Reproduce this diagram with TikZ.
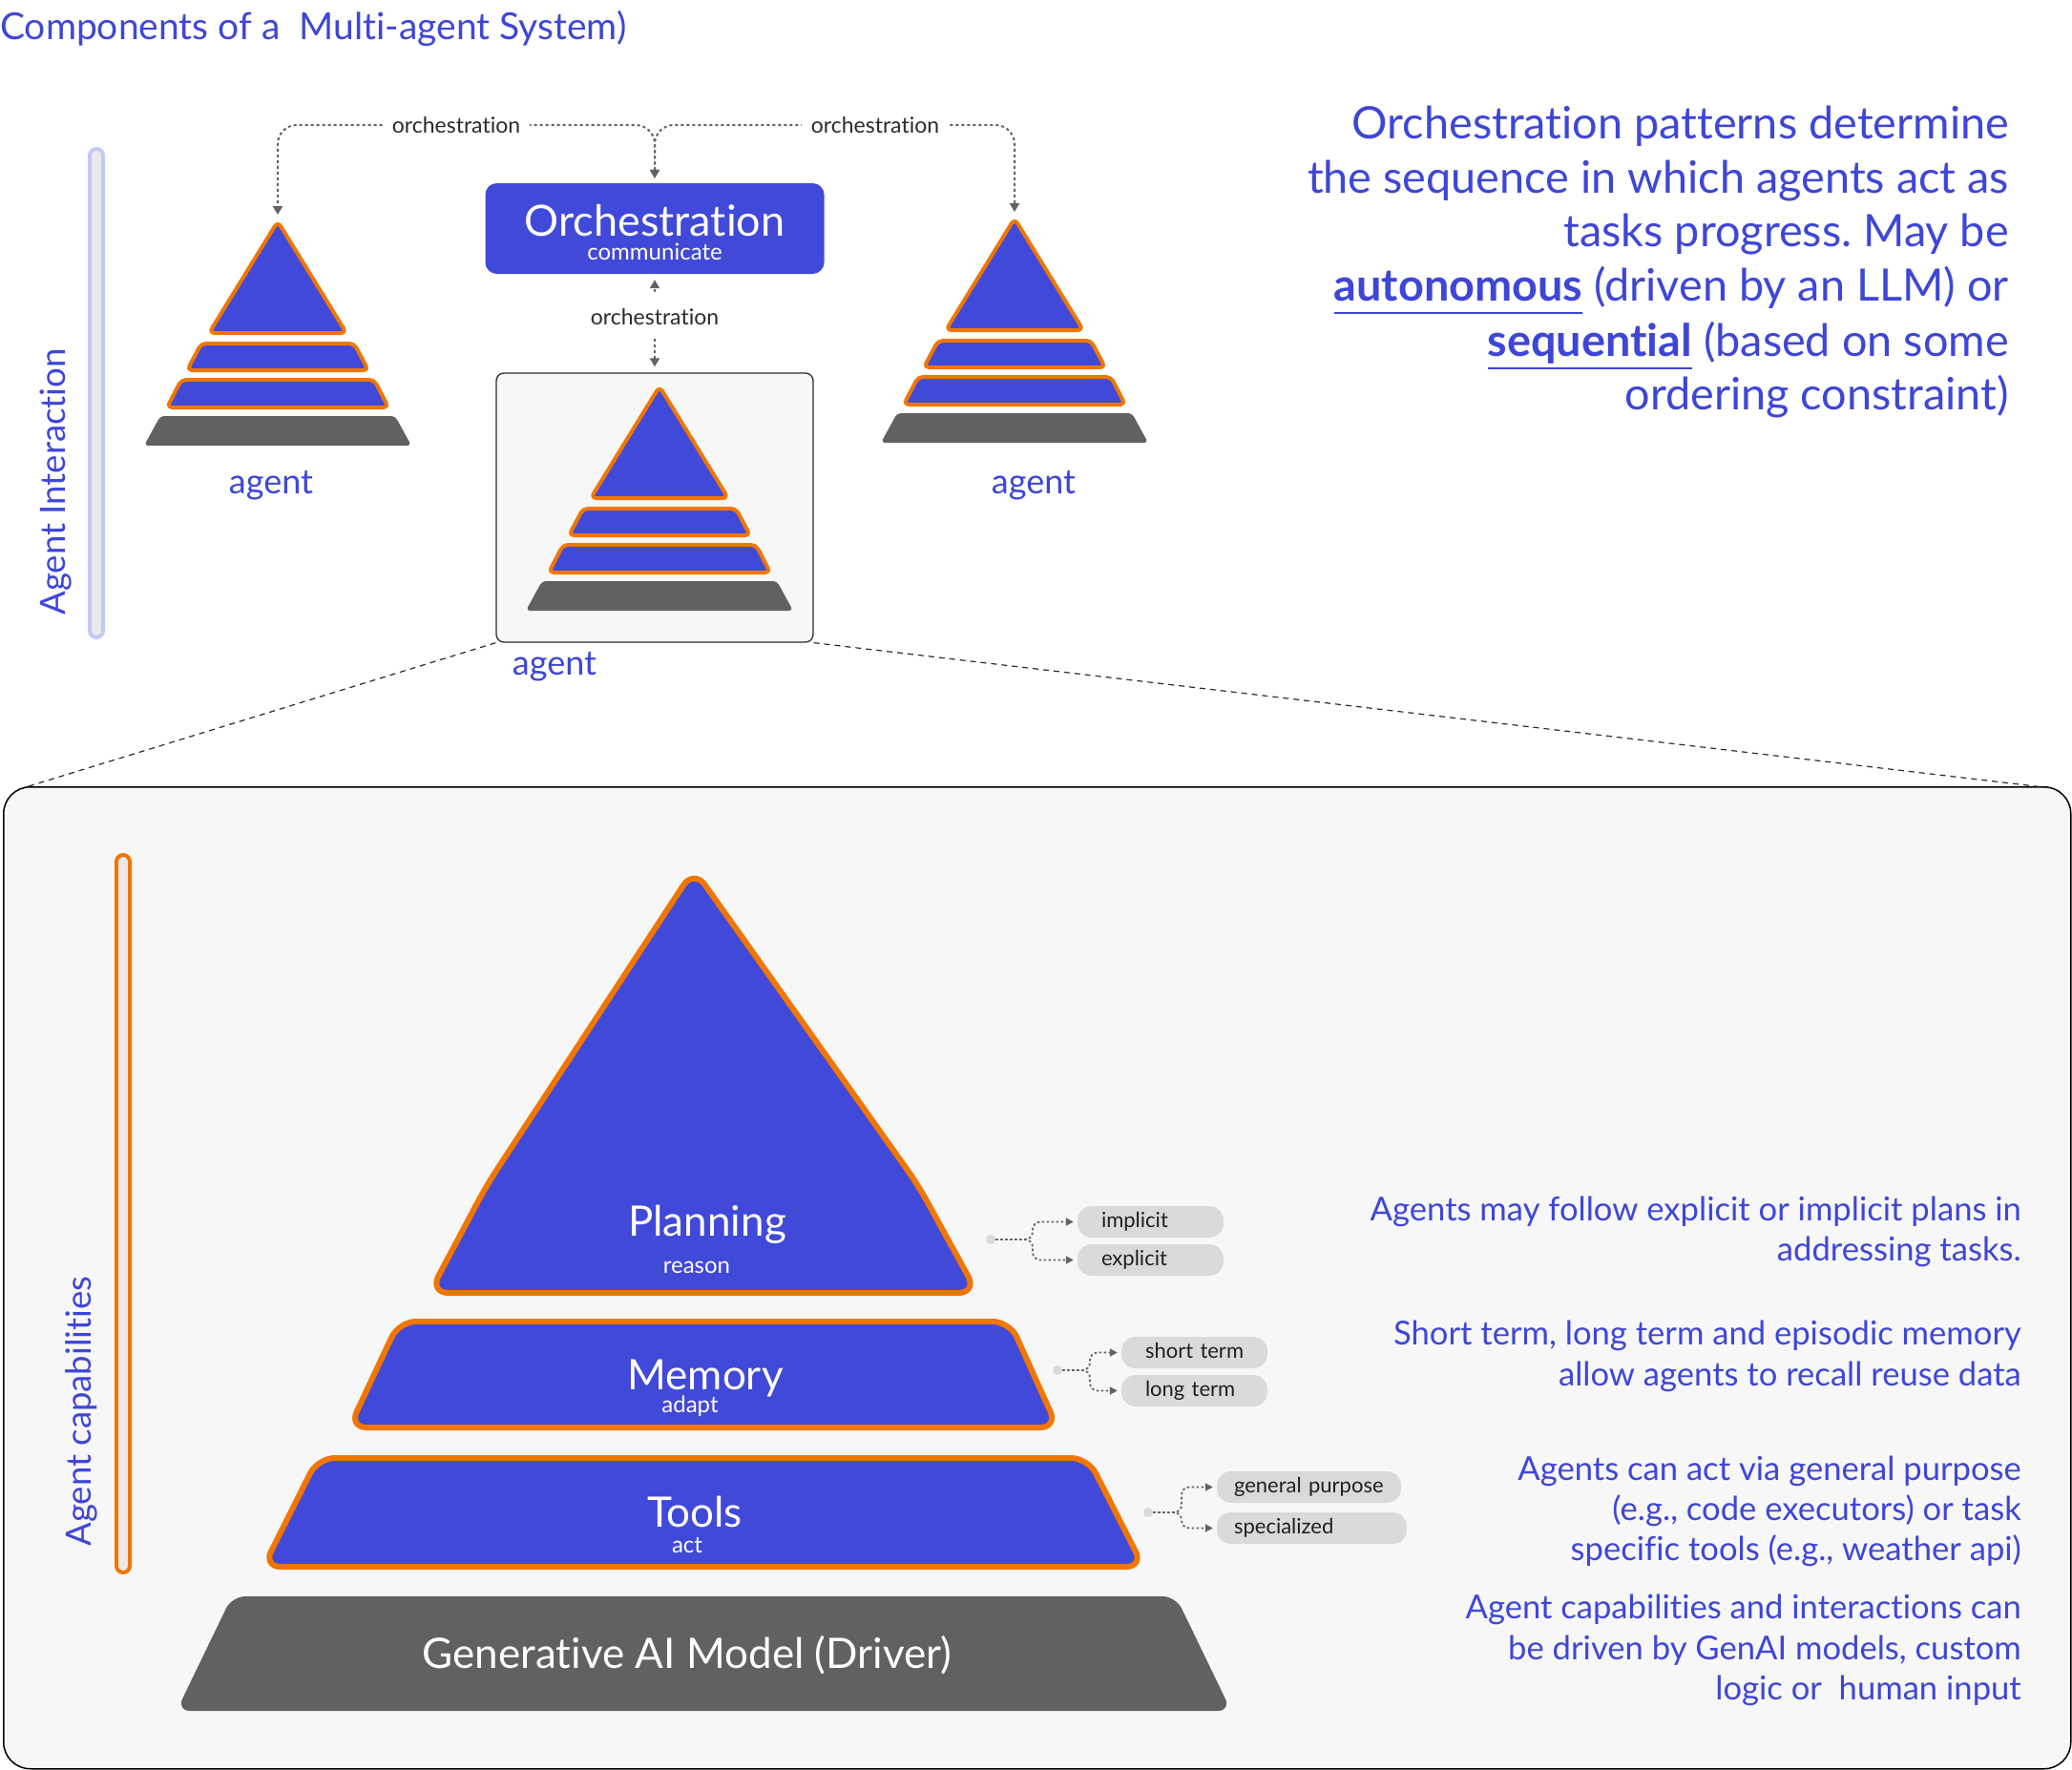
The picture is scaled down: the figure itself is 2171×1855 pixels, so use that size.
\documentclass[tikz,border=0pt]{standalone}
\usepackage{fontspec}
\setmainfont{Lato}[Ligatures=NoCommon]
\usetikzlibrary{arrows.meta}

\definecolor{agblue}{HTML}{4149D9}
\definecolor{txtblue}{HTML}{3E46D8}
\definecolor{agorange}{HTML}{F07600}
\definecolor{aggray}{HTML}{616161}
\definecolor{chipgray}{HTML}{DADADA}
\definecolor{panelbg}{HTML}{F7F7F7}
\definecolor{barfill}{HTML}{EAEAEA}
\definecolor{lavender}{HTML}{C3C7FA}
\definecolor{linkgray}{HTML}{626262}
\definecolor{inkdark}{HTML}{2B2B2B}

\newcommand\fsz[1]{\fontsize{#1}{#1}\selectfont}
% bold word with a rule set well below the baseline
\newcommand\ulbold[1]{\setbox0=\hbox{\bfseries #1}\rlap{\rule[-14pt]{\wd0}{2pt}}\box0\relax}

\tikzset{
  layer/.style={fill=agblue, draw=agorange, line width=4pt, line join=round},
  biglayer/.style={fill=agblue, draw=agorange, line width=6pt, line join=round},
  pics/minipyr/.style={code={
    \fill[aggray, rounded corners=4pt] (0,203) -- (123,203) -- (140,234) -- (-140,234) -- (-123,203) -- cycle;
    \draw[layer, rounded corners=5pt] (0,165) -- (101,165) -- (116,194) -- (-116,194) -- (-101,165) -- cycle;
    \draw[layer, rounded corners=5pt] (0,127) -- (80,127) -- (95,155) -- (-95,155) -- (-80,127) -- cycle;
    \draw[layer, rounded corners=6pt] (0,116) -- (72,116) -- (0,-1) -- (-72,116) -- cycle;
    \coordinate (-top) at (0,0);
  }},
  tipbig/.tip={Triangle[length=9pt,width=10pt]},
  tipsmall/.tip={Triangle[length=8pt,width=8pt]},
  orchlink/.style={draw=linkgray, fill=none, line width=2pt, dash pattern=on 3pt off 3pt, rounded corners=20pt},
  sidelink/.style={draw=linkgray, line width=1.8pt, dash pattern=on 2.5pt off 2.5pt, rounded corners=8pt, -tipsmall, shorten >=4pt},
  orchlbl/.style={font=\fsz{23}, text=inkdark, inner sep=0pt},
  agentlbl/.style={font=\fsz{36}, text=txtblue, anchor=base, inner sep=0pt},
  sidelbl/.style={font=\fsz{36.5}, text=txtblue, anchor=base, inner sep=0pt, rotate=90},
  chip/.style={fill=chipgray, rounded corners=15pt, minimum height=33pt, inner ysep=0pt,
    align=left, font=\fsz{22}, text=black!88, text height=16pt, text depth=5pt},
  sidedot/.style={circle, fill=chipgray, minimum size=10pt, inner sep=0pt},
  layertitle/.style={font=\fsz{44}, text=white, anchor=base, inner sep=0pt},
  layersub/.style={font=\fsz{24}, text=white, anchor=base, inner sep=0pt},
  para/.style={font=\fsz{46.8}, text=txtblue, anchor=base east, inner sep=0pt},
  desc/.style={font=\fsz{34.6}, text=txtblue, anchor=base east, inner sep=0pt},
  zoomline/.style={draw=inkdark, line width=1.2pt, dash pattern=on 6pt off 5pt}
}

\begin{document}
\frenchspacing
\begin{tikzpicture}[x=1pt,y=-1pt]
\useasboundingbox (0,0) rectangle (2171,1855);

% title
\node[font=\fsz{39}, text=txtblue, anchor=base west, inner sep=0pt] (title) at (0,41)
  {Components of a\ \ Multi-agent System)};

% lower panel with the enlarged agent
\node[draw=black, line width=1.5pt, fill=panelbg, rounded corners=28pt,
  minimum width=2166pt, minimum height=1029pt, inner sep=0pt, anchor=north west] (panel) at (3,824) {};
\coordinate (pnl-l) at (30,824);
\coordinate (pnl-r) at (2150,826);

% agent interaction bar and caption
\draw[draw=lavender, fill=barfill, line width=4pt, rounded corners=7pt] (94,156) rectangle (108,668);
\node[sidelbl] (intlbl) at (68,505) {Agent Interaction};

% orchestration box
\node[fill=agblue, rounded corners=12pt, minimum width=355pt, minimum height=95pt, inner sep=0pt] (orch) at (686,239.5) {};
\node[layertitle, font=\fsz{45}] (orchT) at (686,247) {Orchestration};
\node[layersub] (orchS) at (686,272) {communicate};

% highlighted agent box
\node[draw=inkdark, line width=1.3pt, fill=panelbg, rounded corners=8pt,
  minimum width=332pt, minimum height=282pt, inner sep=0pt] (abox) at (686,532) {};
\draw[zoomline] (abox.south west) -- (pnl-l);
\draw[zoomline] (abox.south east) -- (pnl-r);

% three small agents
\pic (lpyr) at (291,233) {minipyr};
\pic (rpyr) at (1063,230) {minipyr};
\pic (cpyr) at (691,406) {minipyr};
\node[agentlbl] (lagent) at (284,517) {agent};
\node[agentlbl] (ragent) at (1083,517) {agent};
\node[agentlbl] (cagent) at (581,707) {agent};

% orchestration connectors
\coordinate (topline) at (0,131);
\draw[orchlink, tipbig-tipbig, shorten <=5pt, shorten >=8pt]
  (orch.north) -- (orch.north |- topline) -- (lpyr-top |- topline) -- (lpyr-top);
\draw[orchlink, tipbig-tipbig, shorten <=5pt, shorten >=8pt]
  (orch.north) -- (orch.north |- topline) -- (rpyr-top |- topline) -- (rpyr-top);
\node[orchlbl, fill=white, inner xsep=10pt, inner ysep=4pt] (olabL) at (478,131) {orchestration};
\node[orchlbl, fill=white, inner xsep=10pt, inner ysep=4pt] (olabR) at (917,131) {orchestration};
\node[orchlbl, anchor=base] (olabC) at (686,340) {orchestration};
\draw[orchlink, -tipbig, shorten <=17pt, shorten >=6pt] (olabC.north) -- (orch.south);
\draw[orchlink, -tipbig, shorten <=15pt, shorten >=6pt] (olabC.south) -- (abox.north);

% orchestration description
\node[para] (p1) at (2105,145) {Orchestration patterns determine};
\node[para] (p2) at (2105,202) {the sequence in which agents act as};
\node[para] (p3) at (2105,258) {tasks progress. May be};
\node[para] (p4) at (2105,315) {\ulbold{autonomous} (driven by an LLM) or};
\node[para] (p5) at (2105,373) {\ulbold{sequential} (based on some};
\node[para] (p6) at (2105,429) {ordering constraint)};

% agent capabilities bar and caption
\draw[draw=agorange, fill=barfill, line width=4pt, rounded corners=7pt] (122,896) rectangle (136,1648);
\node[sidelbl] (caplbl) at (95,1479) {Agent capabilities};

% enlarged agent layers
\fill[aggray, rounded corners=14pt] (737,1673) -- (1232,1673) -- (1290,1793) -- (185,1793) -- (243,1673) -- cycle;
\draw[biglayer, rounded corners=18pt] (737,1528) -- (1140,1528) -- (1198,1642) -- (276,1642) -- (333,1528) -- cycle;
\draw[biglayer, rounded corners=18pt] (737,1385) -- (1058,1385) -- (1108,1496) -- (366,1496) -- (418,1385) -- cycle;
\draw[biglayer, rounded corners=20pt] (740,1355) -- (1024,1355) -- (962,1242) -- (727,911) -- (510,1242) -- (450,1355) -- cycle;

\node[layertitle] (planT) at (741,1295) {Planning};
\node[layersub] (planS) at (730,1334) {reason};
\node[layertitle] (memT) at (739,1456) {Memory};
\node[layersub] (memS) at (723,1480) {adapt};
\node[layertitle] (toolT) at (728,1600) {Tools};
\node[layersub] (toolS) at (720,1627) {act};
\node[layertitle] (genT) at (720,1748) {Generative AI Model (Driver)};

% options branching off each layer
\node[chip, inner xsep=25pt, text width=103pt] (chipI) at (1205.5,1280.5) {\mbox{implicit}};
\node[chip, inner xsep=25pt, text width=103pt] (chipE) at (1205.5,1320.5) {\mbox{explicit}};
\node[chip, inner xsep=25pt, text width=103pt] (chipS) at (1251.5,1417.5) {\mbox{short term}};
\node[chip, inner xsep=25pt, text width=103pt] (chipL) at (1251.5,1457.5) {\mbox{long term}};
\node[chip, inner xsep=18pt, text width=157pt] (chipG) at (1371.5,1558.5) {\mbox{general purpose}};
\node[chip, inner xsep=18pt, text width=163pt] (chipP) at (1374.5,1601.5) {\mbox{specialized}};

\node[sidedot] (dotP) at (1038,1299) {};
\node[sidedot] (dotM) at (1108,1436) {};
\node[sidedot] (dotT) at (1203,1585) {};
\draw[sidelink] (dotP) -- ++(44,0) |- (chipI.west);
\draw[sidelink] (dotP) -- ++(44,0) |- (chipE.west);
\draw[sidelink] (dotM) -- ++(34,0) |- (chipS.west);
\draw[sidelink] (dotM) -- ++(34,0) |- (chipL.west);
\draw[sidelink] (dotT) -- ++(35,0) |- (chipG.west);
\draw[sidelink] (dotT) -- ++(35,0) |- (chipP.west);

% capability descriptions
\node[desc] (d1a) at (2118,1279) {Agents may follow explicit or implicit plans in};
\node[desc] (d1b) at (2118,1321) {addressing tasks.};
\node[desc] (d2a) at (2118,1409) {Short term, long term and episodic memory};
\node[desc] (d2b) at (2118,1452) {allow agents to recall reuse data};
\node[desc] (d3a) at (2118,1551) {Agents can act via general purpose};
\node[desc] (d3b) at (2118,1593) {(e.g., code executors) or task};
\node[desc] (d3c) at (2118,1635) {specific tools (e.g., weather api)};
\node[desc] (d4a) at (2118,1696) {Agent capabilities and interactions can};
\node[desc] (d4b) at (2118,1739) {be driven by GenAI models, custom};
\node[desc] (d4c) at (2118,1781) {logic or\ \ human input};
\end{tikzpicture}
\end{document}
